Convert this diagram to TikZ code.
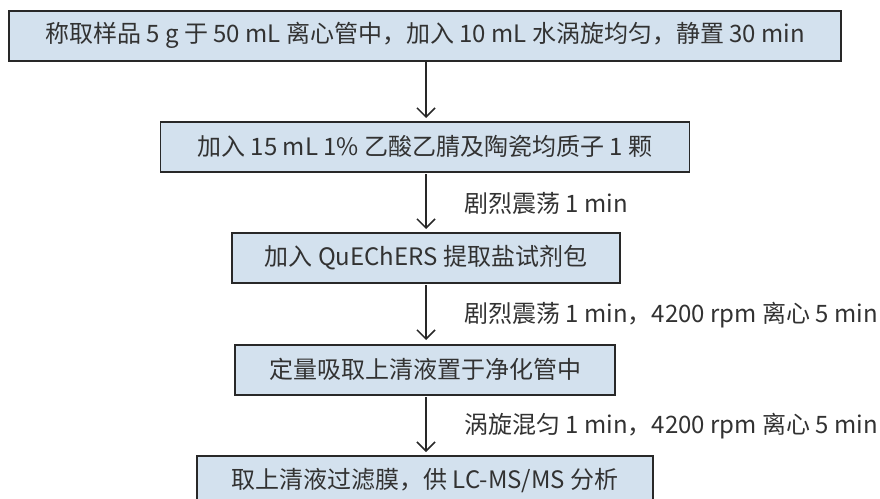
\documentclass[tikz,border=0pt]{standalone}
\usepackage{fontspec}
\setmainfont{Noto Sans CJK SC}
\usetikzlibrary{arrows.meta}
\definecolor{boxfill}{RGB}{211,225,238}
\definecolor{boxline}{RGB}{40,40,40}
\definecolor{txt}{RGB}{50,50,50}
\tikzset{
  stepbox/.style={draw=boxline, line width=1.6pt, fill=boxfill, text=txt,
    minimum height=50pt, inner sep=0pt, anchor=north,
    font=\fontsize{24pt}{28pt}\selectfont},
  flow/.style={draw=boxline, line width=1.5pt, -{Straight Barb[length=9pt,width=18pt,line width=1.5pt]}},
  note/.style={text=txt, anchor=west, inner sep=0pt, font=\fontsize{24pt}{28pt}\selectfont}
}
\begin{document}
\begin{tikzpicture}[x=1pt,y=-1pt]
\useasboundingbox (0,0) rectangle (880,498);
\clip (0,0) rectangle (880,498);
\node[stepbox, minimum width=832pt] (b1) at (425,10) {称取样品 5 g 于 50 mL 离心管中，加入 10 mL 水涡旋均匀，静置 30 min};
\node[stepbox, minimum width=529pt] (b2) at (425,121) {加入 15 mL 1\% 乙酸乙腈及陶瓷均质子 1 颗};
\node[stepbox, minimum width=388pt] (b3) at (426,232) {加入 QuEChERS 提取盐试剂包};
\node[stepbox, minimum width=380pt] (b4) at (425,344) {定量吸取上清液置于净化管中};
\node[stepbox, minimum width=456pt] (b5) at (425,455) {取上清液过滤膜，供 LC-MS/MS 分析};
\coordinate (a1s) at (426,62);  \coordinate (a1e) at (426,118);
\coordinate (a2s) at (426,174); \coordinate (a2e) at (426,229);
\coordinate (a3s) at (426,285); \coordinate (a3e) at (426,340);
\coordinate (a4s) at (426,397); \coordinate (a4e) at (426,452);
\draw[flow] (a1s) -- (a1e);
\draw[flow] (a2s) -- (a2e);
\draw[flow] (a3s) -- (a3e);
\draw[flow] (a4s) -- (a4e);
\node[note] (l2) at (464,203) {剧烈震荡 1 min};
\node[note] (l3) at (464,315) {剧烈震荡 1 min，4200 rpm 离心 5 min};
\node[note] (l4) at (464,426) {涡旋混匀 1 min，4200 rpm 离心 5 min};
\end{tikzpicture}
\end{document}
